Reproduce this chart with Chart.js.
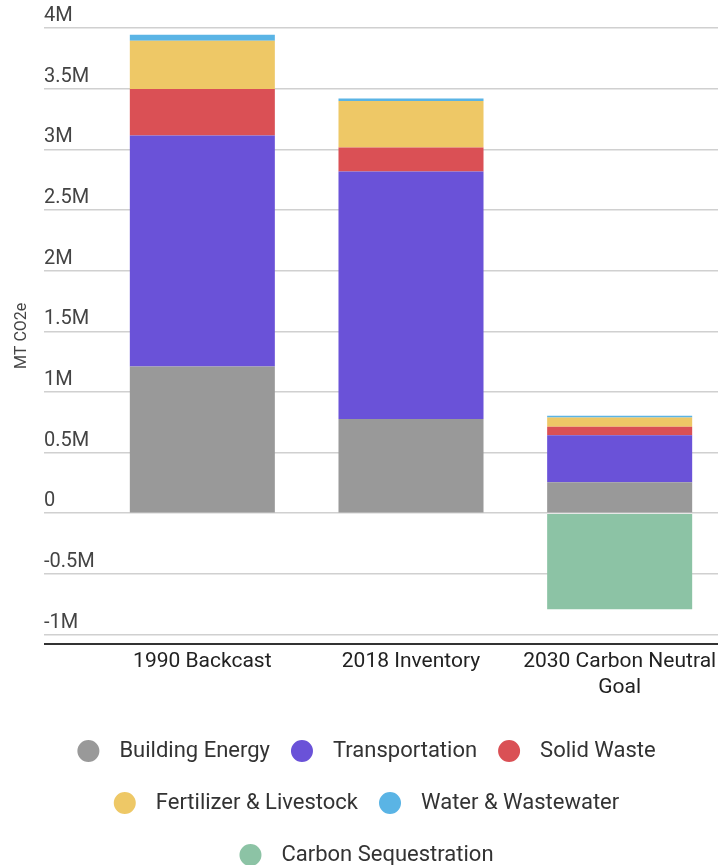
<!DOCTYPE html>
<html>
<head>
<meta charset="utf-8">
<script src="https://cdn.jsdelivr.net/npm/chart.js@4"></script>
<style>
  html, body { margin: 0; padding: 0; background: #fff; overflow: hidden; }
  #wrap { width: 732px; height: 885px; }
</style>
</head>
<body>
<div id="wrap"><canvas id="co2Chart"></canvas></div>
<script>
const categories = ['1990 Backcast', '2018 Inventory', ['2030 Carbon Neutral', 'Goal']];
const buildingEnergy = [1210000, 777000, 255000];
const transportation = [1904000, 2039000, 387000];
const solidWaste = [383000, 198000, 71000];
const fertilizerLivestock = [397000, 385000, 75000];
const waterWastewater = [50000, 20000, 16000];
const carbonSequestration = [null, null, -791000];
const yTicks = [-1000000, -500000, 0, 500000, 1000000, 1500000, 2000000, 2500000, 3000000, 3500000, 4000000];
const yMin = -1075000;
const yMax = 4000000;

Chart.defaults.font.family = 'Roboto';

const series = (label, data, color) => ({
    label: label,
    data: data,
    backgroundColor: color,
    borderWidth: 0,
    barPercentage: 0.695,
    categoryPercentage: 1
});

const fmt = v => v === 0 ? '0' : (v / 1000000) + 'M';

const ctx = document.getElementById('co2Chart').getContext('2d');

new Chart(ctx, {
    type: 'bar',
    data: {
        labels: categories,
        datasets: [
            series('Building Energy', buildingEnergy, '#999999'),
            series('Transportation', transportation, '#6a52d8'),
            series('Solid Waste', solidWaste, '#da5055'),
            series('Fertilizer & Livestock', fertilizerLivestock, '#eec866'),
            series('Water & Wastewater', waterWastewater, '#5ab4e5'),
            series('Carbon Sequestration', carbonSequestration, '#8cc3a5')
        ]
    },
    options: {
        responsive: true,
        maintainAspectRatio: false,
        animation: false,
        layout: { padding: { top: 28, right: 8, left: 0, bottom: 0 } },
        scales: {
            x: {
                stacked: true,
                grid: { display: false, drawTicks: false },
                border: { display: false },
                afterFit: axis => { axis.height += 13; },
                ticks: { color: '#222', font: { size: 21 }, padding: 6, maxRotation: 0 }
            },
            y: {
                stacked: true,
                min: yMin,
                max: yMax,
                afterBuildTicks: axis => {
                    axis.ticks = [yMin].concat(yTicks).map(v => ({ value: v }));
                },
                afterFit: axis => { axis.width = 54; },
                border: { display: false },
                grid: {
                    tickLength: 54,
                    color: c => c.tick && c.tick.value === yMin ? '#333' : '#d0d0d0',
                    lineWidth: c => c.tick && c.tick.value === yMin ? 2 : 1.5
                },
                ticks: {
                    color: '#444',
                    font: { size: 20 },
                    crossAlign: 'far',
                    labelOffset: -12,
                    callback: v => v === yMin ? '' : fmt(v)
                }
            }
        },
        plugins: {
            title: {
                display: true,
                text: 'MT CO2e',
                position: 'left',
                fullSize: false,
                color: '#444',
                font: { size: 16, weight: 'normal' },
                padding: 12.4
            },
            tooltip: { enabled: false },
            legend: {
                position: 'bottom',
                labels: {
                    color: '#333',
                    font: { size: 22 },
                    boxWidth: 40,
                    boxHeight: 40,
                    padding: 12,
                    useBorderRadius: true,
                    borderRadius: 20,
                    generateLabels: chart =>
                        Chart.defaults.plugins.legend.labels.generateLabels(chart).map(item => ({
                            ...item, strokeStyle: '#fff', lineWidth: 18, borderRadius: 20
                        }))
                }
            }
        }
    }
});
</script>
</body>
</html>
